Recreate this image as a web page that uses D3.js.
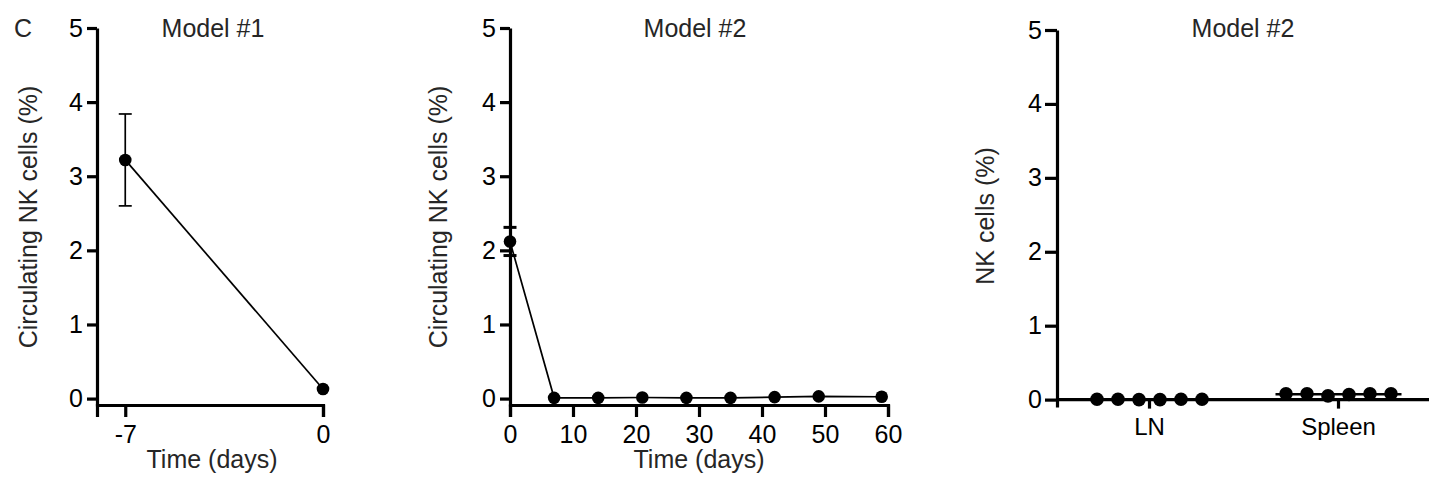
<!DOCTYPE html>
<html>
<head>
<meta charset="utf-8">
<script src="https://cdn.jsdelivr.net/npm/d3@7"></script>
<style>
  body { margin: 0; background: #fff; }
  svg { display: block; font-family: Arial, "Liberation Sans", sans-serif; }
  .lbl { fill: #262626; font-size: 25px; }
</style>
</head>
<body>
<svg id="chart" width="1429" height="484"></svg>
<script>
// values
var yTicks = [0, 1, 2, 3, 4, 5];

var m1Days = [-7, 0];
var m1Mean = [3.22, 0.13];
var m1Err = [0.62, 0];
var m1XTicks = [-7, 0];

var m2Days = [0, 7, 14, 21, 28, 35, 42, 49, 59];
var m2Mean = [2.12, 0.01, 0.01, 0.015, 0.01, 0.01, 0.02, 0.03, 0.025];
var m2Err = [0.19, 0, 0, 0, 0, 0, 0, 0, 0];
var m2XTicks = [0, 10, 20, 30, 40, 50, 60];

var organs = ["LN", "Spleen"];
var lnValues = [0.005, 0.005, 0.0, 0.0, 0.005, 0.005];
var spleenValues = [0.08, 0.08, 0.05, 0.07, 0.08, 0.08];

var svg = d3.select("#chart");
var plain = function(d){ return String(d); };

function styleAxis(a, size){
  a.selectAll("path, line").attr("stroke", "#000").attr("stroke-width", 3.2);
  a.selectAll("text").attr("fill", "#000").attr("font-size", size || 25)
    .attr("font-family", "Arial, 'Liberation Sans', sans-serif");
}

// panel letter
svg.append("text").attr("class", "lbl").attr("x", 23).attr("y", 37)
  .attr("text-anchor", "middle").text("C");

function yAxisLabel(x, y, txt){
  svg.append("text").attr("class", "lbl")
    .attr("transform", "translate(" + x + "," + y + ") rotate(-90)")
    .attr("text-anchor", "middle").attr("dy", "0.35em").text(txt);
}

function title(x, txt){
  svg.append("text").attr("class", "lbl").attr("x", x).attr("y", 37)
    .attr("text-anchor", "middle").text(txt);
}

// time course panel (panels 1 and 2)
function timePanel(opts){
  var x = d3.scaleLinear().domain(opts.xDomain).range(opts.xRange);
  var y = d3.scaleLinear().domain([-0.1, 5]).range([406, 28]);
  var g = svg.append("g");

  g.append("g")
    .attr("transform", "translate(0," + 405 + ")")
    .call(d3.axisBottom(x).tickValues(opts.xTicks).tickSize(12).tickPadding(8).tickFormat(plain))
    .call(styleAxis);

  g.append("g")
    .attr("transform", "translate(" + opts.xRange[0] + ",0)")
    .call(d3.axisLeft(y).tickValues(yTicks).tickSize(10).tickPadding(4).tickSizeOuter(0).tickFormat(plain))
    .call(styleAxis);

  var pts = opts.days.map(function(d, i){ return {x: d, y: opts.mean[i], e: opts.err[i]}; });

  g.append("path").datum(pts)
    .attr("fill", "none").attr("stroke", "#000").attr("stroke-width", 1.7)
    .attr("d", d3.line().x(function(d){ return x(d.x); }).y(function(d){ return y(d.y); }));

  var eb = g.selectAll(".err").data(pts.filter(function(d){ return d.e > 0; }))
    .enter().append("g").attr("class", "err");
  eb.append("line")
    .attr("x1", function(d){ return x(d.x); }).attr("x2", function(d){ return x(d.x); })
    .attr("y1", function(d){ return y(d.y - d.e); }).attr("y2", function(d){ return y(d.y + d.e); })
    .attr("stroke", "#000").attr("stroke-width", 1.7);
  [-1, 1].forEach(function(s){
    eb.append("line")
      .attr("x1", function(d){ return x(d.x) - 6.5; }).attr("x2", function(d){ return x(d.x) + 6.5; })
      .attr("y1", function(d){ return y(d.y + s * d.e); }).attr("y2", function(d){ return y(d.y + s * d.e); })
      .attr("stroke", "#000").attr("stroke-width", opts.capWidth);
  });

  g.selectAll(".dot").data(pts).enter().append("circle")
    .attr("cx", function(d){ return x(d.x); }).attr("cy", function(d){ return y(d.y); })
    .attr("r", 6.3).attr("fill", "#000");

  var mid = (opts.xRange[0] + opts.xRange[1]) / 2;
  svg.append("text").attr("class", "lbl").attr("x", mid + opts.labelShift).attr("y", 468)
    .attr("text-anchor", "middle").text("Time (days)");
  yAxisLabel(opts.yLabelX, 217, "Circulating NK cells (%)");
  title(opts.titleX, opts.title);
}

timePanel({xDomain: [-8, 0], xRange: [97, 323], xTicks: m1XTicks, days: m1Days,
  mean: m1Mean, err: m1Err, capWidth: 1.7, labelShift: 2, yLabelX: 28,
  titleX: 213, title: "Model #1"});
timePanel({xDomain: [0, 60], xRange: [510, 888], xTicks: m2XTicks, days: m2Days,
  mean: m2Mean, err: m2Err, capWidth: 3, labelShift: 0, yLabelX: 438,
  titleX: 695, title: "Model #2"});

// organ scatter panel
(function(){
  var x = d3.scaleBand().domain(organs).range([1055, 1433]).padding(0);
  var y = d3.scaleLinear().domain([-0.1, 5]).range([407, 30]);
  var spacing = 21;
  var g = svg.append("g");

  g.append("g")
    .attr("transform", "translate(0," + y(0) + ")")
    .call(d3.axisBottom(x).tickSize(9).tickPadding(9).tickSizeOuter(0))
    .call(function(a){ a.select(".domain").attr("d", "M1057,0H1429"); })
    .call(styleAxis, 24);

  g.append("g")
    .attr("transform", "translate(1057,0)")
    .call(d3.axisLeft(y).tickValues(yTicks).tickSize(12).tickPadding(3).tickSizeOuter(0).tickFormat(plain))
    .call(styleAxis);

  var groups = [lnValues, spleenValues];
  groups.forEach(function(vals, gi){
    var cx = x(organs[gi]) + x.bandwidth() / 2;
    var n = vals.length;
    g.selectAll(".d" + gi).data(vals).enter().append("circle")
      .attr("cx", function(d, i){ return cx + (i - (n - 1) / 2) * spacing; })
      .attr("cy", function(d){ return y(d); })
      .attr("r", 6.8).attr("fill", "#000");
    var m = d3.mean(vals);
    g.append("line")
      .attr("x1", cx - 3 * spacing).attr("x2", cx + 3 * spacing)
      .attr("y1", y(m)).attr("y2", y(m))
      .attr("stroke", "#000").attr("stroke-width", 2.5);
  });

  yAxisLabel(985, 216, "NK cells (%)");
  title(1243, "Model #2");
})();
</script>
</body>
</html>
